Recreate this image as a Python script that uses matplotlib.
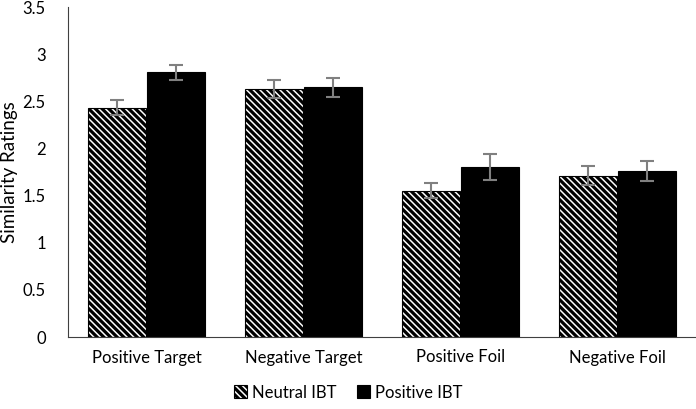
import matplotlib
matplotlib.use("Agg")
import matplotlib.pyplot as plt
import numpy as np

categories = ["Positive Target", "Negative Target", "Positive Foil", "Negative Foil"]
neutral = [2.43, 2.63, 1.55, 1.71]
positive = [2.81, 2.65, 1.80, 1.76]
neutral_err = [0.08, 0.10, 0.08, 0.10]
positive_err = [0.08, 0.10, 0.14, 0.11]
series_labels = ["Neutral IBT", "Positive IBT"]
yticks = [0, 0.5, 1, 1.5, 2, 2.5, 3, 3.5]
ytick_labels = ["0", "0.5", "1", "1.5", "2", "2.5", "3", "3.5"]

plt.rcParams['font.family'] = ['Lato', 'DejaVu Sans']
plt.rcParams['hatch.linewidth'] = 2.3

fig = plt.figure(figsize=(6.96, 4.09), dpi=100)
ax = fig.add_axes([68/696, 1-337/409, 1-68/696, 330/409])

x = np.arange(len(categories))
w = 0.37
off = 0.19
ax.bar(x - off, neutral, width=w, color="white", edgecolor="black", linewidth=0.8,
       hatch="\\" * 5, label=series_labels[0])
ax.bar(x + off, positive, width=w, color="black", edgecolor="black", linewidth=0.8,
       label=series_labels[1])
ax.errorbar(x - off, neutral, yerr=neutral_err, fmt="none", ecolor="#808080",
            elinewidth=1.5, capsize=5, capthick=1.5)
ax.errorbar(x + off, positive, yerr=positive_err, fmt="none", ecolor="#808080",
            elinewidth=1.5, capsize=5, capthick=1.5)

ax.set_xlim(-0.5, 3.5)
ax.set_ylim(0, 3.5)
ax.set_yticks(yticks)
ax.set_yticklabels(ytick_labels)
ax.set_xticks(x)
ax.set_xticklabels(categories)
ax.tick_params(axis="both", length=0, labelsize=12, colors="#000000")
ax.tick_params(axis="y", pad=16)
ax.tick_params(axis="x", pad=9)
for s in ["top", "right"]:
    ax.spines[s].set_visible(False)
ax.spines["left"].set_color("#404040")
ax.spines["bottom"].set_color("#404040")
ax.set_ylabel("Similarity Ratings", fontsize=13.5, labelpad=4)
ax.yaxis.set_label_coords(-0.08, 0.5)

fig.legend(loc="center", bbox_to_anchor=(0.5, 0.04), ncol=2, frameon=False,
           fontsize=12, handlelength=0.8, handleheight=0.8, handletextpad=0.3,
           columnspacing=1.2)

fig.savefig("out.png", dpi=100)
